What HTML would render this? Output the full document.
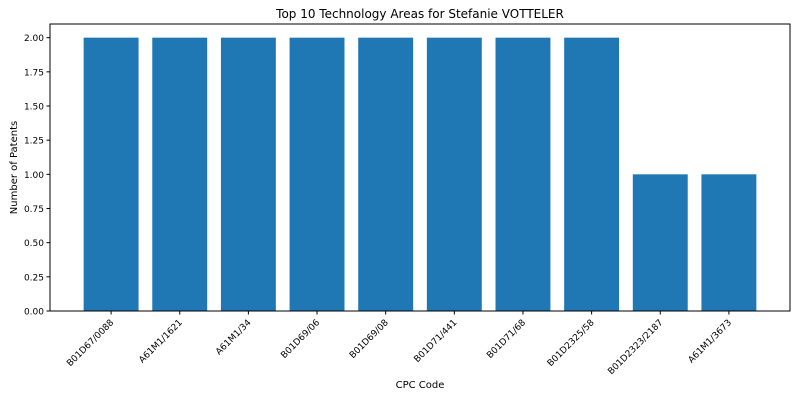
<!DOCTYPE html>
<html><head><meta charset="utf-8"><style>
body{margin:0;background:#fff;font-family:"DejaVu Sans","Liberation Sans",sans-serif;}
svg text{font-family:"DejaVu Sans","Liberation Sans",sans-serif;fill:#000;}
</style></head><body>
<svg id="chart" width="800" height="400">
<text x="420" y="18" font-size="12" text-anchor="middle">Top 10 Technology Areas for Stefanie VOTTELER</text>
<text x="420" y="388" font-size="10" text-anchor="middle">CPC Code</text>
<text transform="translate(17,167.5) rotate(-90)" font-size="10" text-anchor="middle">Number of Patents</text>
<g id="bars"></g><g id="yticks"></g><g id="xticks"></g>
<rect x="50" y="24" width="740" height="287" fill="none" stroke="#000" stroke-width="1"/>
</svg>
<script>
const categories=["B01D67/0088","A61M1/1621","A61M1/34","B01D69/06","B01D69/08","B01D71/441","B01D71/68","B01D2325/58","B01D2323/2187","A61M1/3673"];
const values=[2,2,2,2,2,2,2,2,1,1];
const yTickValues=[0,0.25,0.5,0.75,1,1.25,1.5,1.75,2];
const yTickLabels=["0.00","0.25","0.50","0.75","1.00","1.25","1.50","1.75","2.00"];
const L=50,R=790,T=24,B=311;
const ymax=Math.max(...values)*1.05;
const y=v=>B-(v/ymax)*(B-T);
const n=categories.length;
const xmin=-0.4-(n-0.2)*0.05, xmax=n-1+0.4+(n-0.2)*0.05;
const x=i=>L+(i-xmin)/(xmax-xmin)*(R-L);
const unit=(R-L)/(xmax-xmin);
const NS="http://www.w3.org/2000/svg";
const bars=document.getElementById('bars'),yt=document.getElementById('yticks'),xt=document.getElementById('xticks');
values.forEach((v,i)=>{
 const r=document.createElementNS(NS,'rect');
 r.setAttribute('x',x(i)-0.4*unit);r.setAttribute('width',0.8*unit);
 r.setAttribute('y',y(v));r.setAttribute('height',B-y(v));r.setAttribute('fill','#1f77b4');
 
 
 bars.appendChild(r);
 const t=document.createElementNS(NS,'line');
 t.setAttribute('x1',x(i));t.setAttribute('x2',x(i));t.setAttribute('y1',B);t.setAttribute('y2',B+3.5);t.setAttribute('stroke','#000');
 
 
 xt.appendChild(t);
 const l=document.createElementNS(NS,'text');
 l.setAttribute('font-size','9');l.setAttribute('text-anchor','end');
 l.setAttribute('transform',`translate(${x(i)+3},${B+12}) rotate(-45)`);
 l.textContent=categories[i];
 
 
 xt.appendChild(l);
});
yTickValues.forEach((v,i)=>{
 const t=document.createElementNS(NS,'line');
 t.setAttribute('x1',L-3.5);t.setAttribute('x2',L);t.setAttribute('y1',y(v));t.setAttribute('y2',y(v));t.setAttribute('stroke','#000');
 
 
 yt.appendChild(t);
 const l=document.createElementNS(NS,'text');
 l.setAttribute('x',L-6);l.setAttribute('y',y(v)+3.5);l.setAttribute('font-size','9');l.setAttribute('text-anchor','end');
 l.textContent=yTickLabels[i];
 
 
 yt.appendChild(l);
});
</script>
</body></html>
